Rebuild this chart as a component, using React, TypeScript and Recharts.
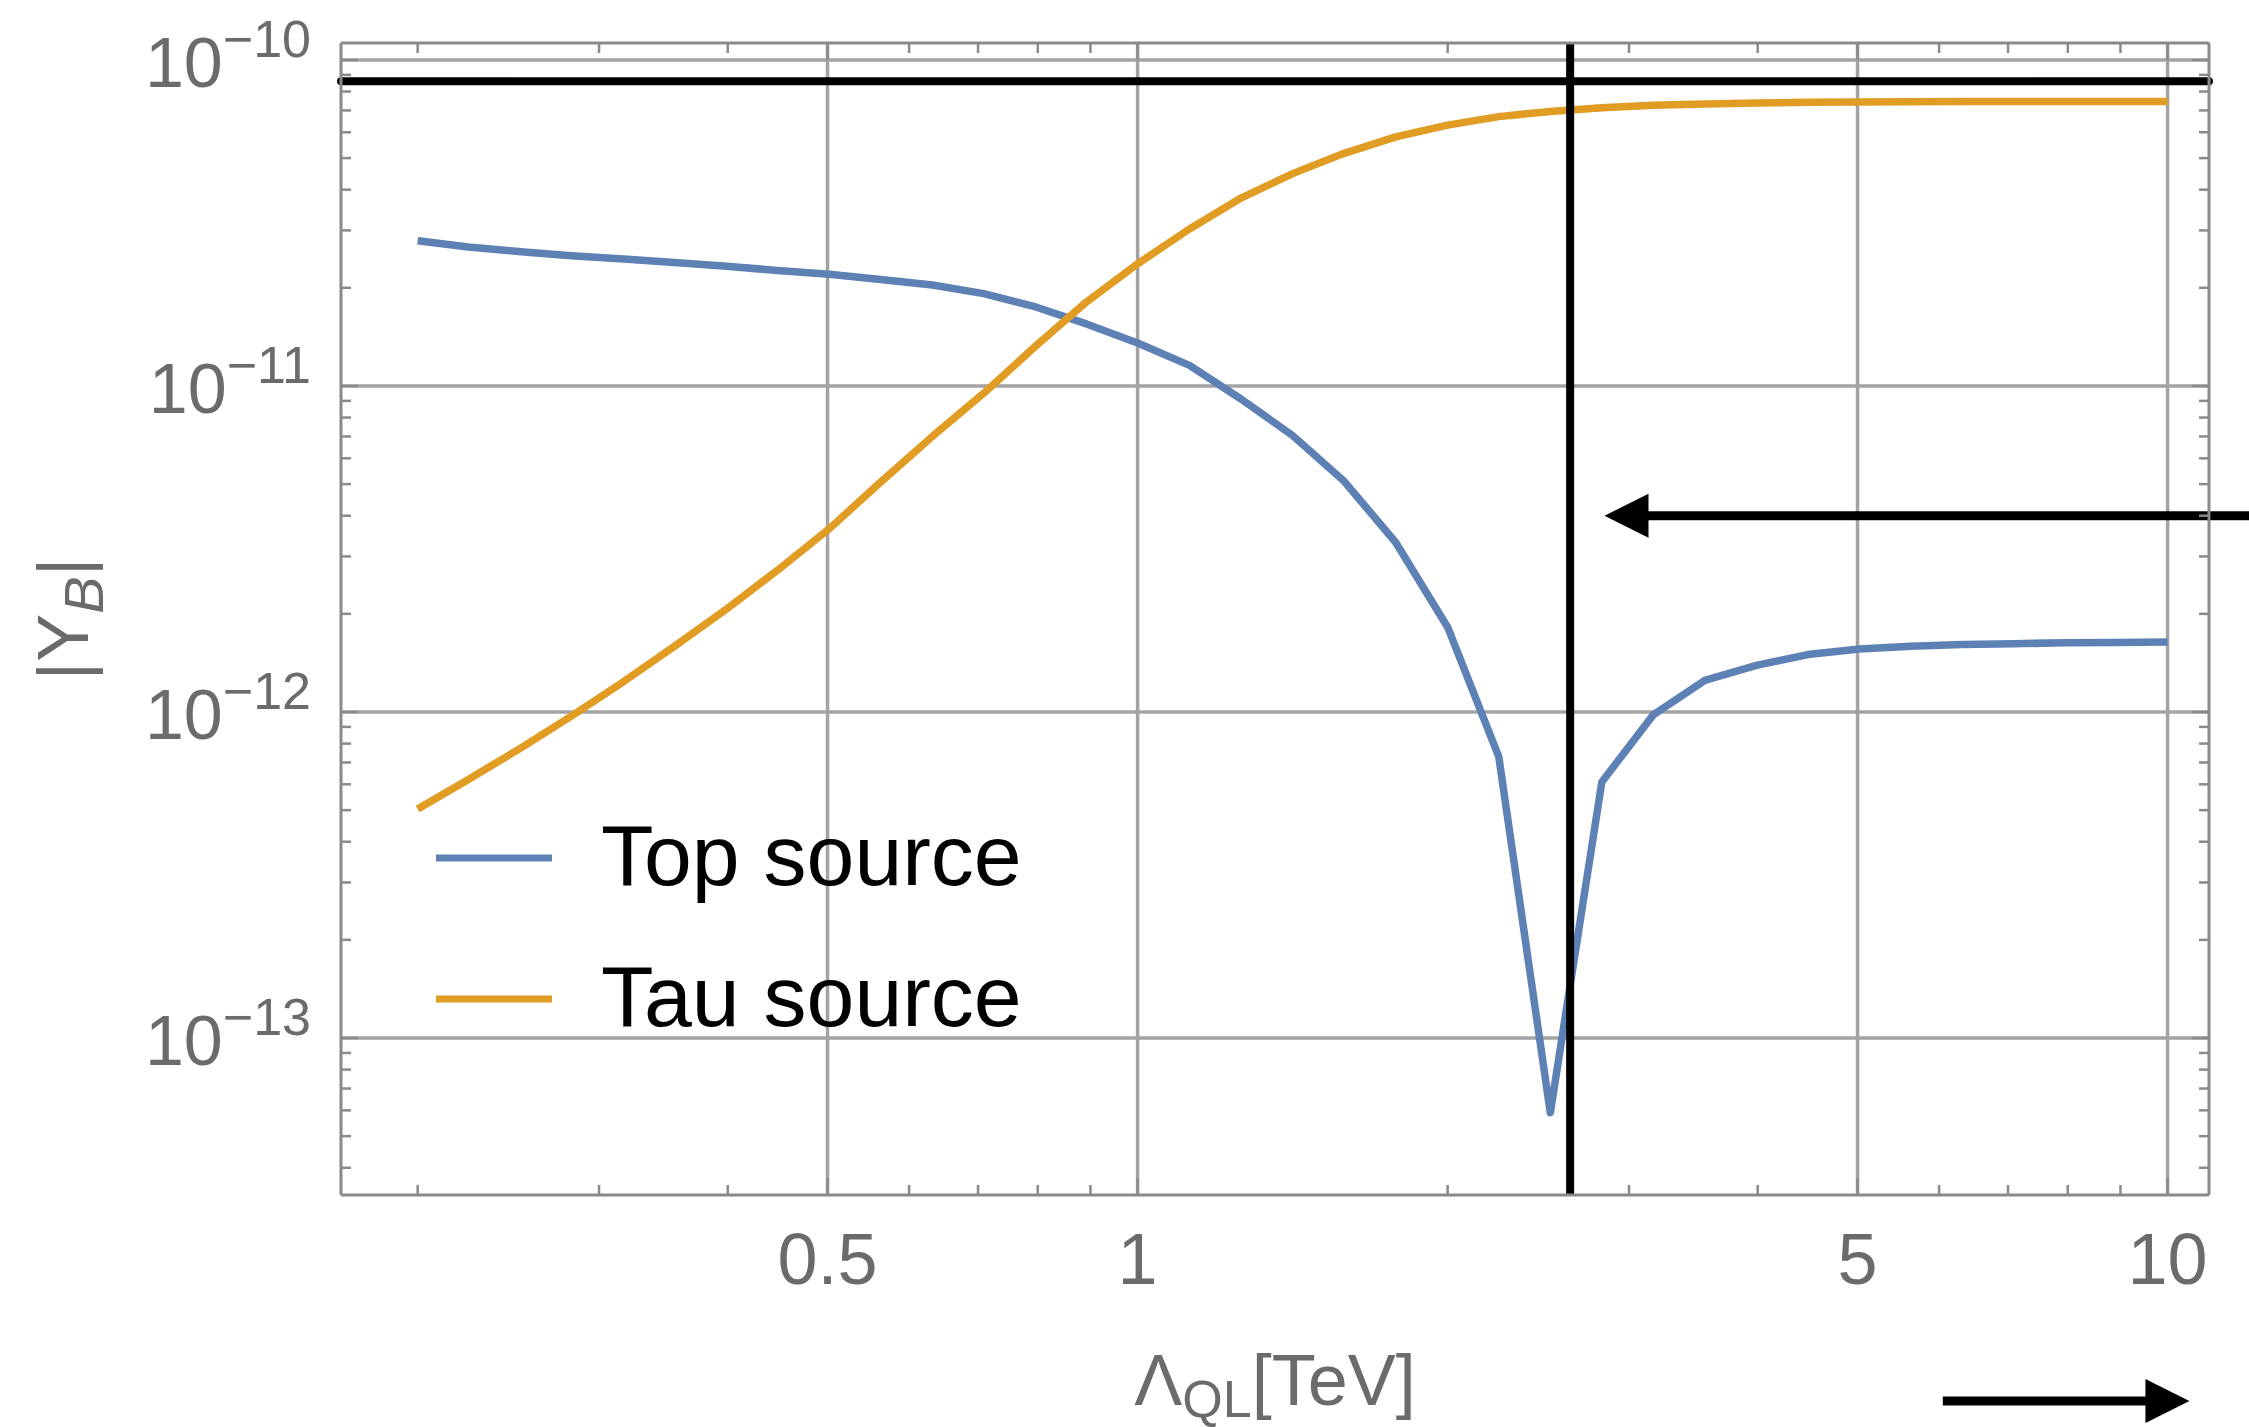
import React from 'react';
import { LineChart, Line, XAxis, YAxis, ReferenceLine, Legend } from 'recharts';

// Lambda_QL [TeV] sample points (log spaced, as in the original plot)
const lambdaQL = [
  0.2, 0.224, 0.252, 0.282, 0.317, 0.355, 0.399, 0.447, 0.502, 0.563, 0.632, 0.709,
  0.795, 0.892, 1.0, 1.123, 1.26, 1.414, 1.587, 1.781, 2.0, 2.242, 2.516, 2.823,
  3.167, 3.554, 3.988, 4.474, 5.02, 5.633, 6.32, 7.092, 7.957, 8.928, 10.0,
];

// |Y_B| from the top quark source
const topSource = [
  2.79e-11, 2.67e-11, 2.58e-11, 2.51e-11, 2.45e-11, 2.39e-11, 2.33e-11, 2.26e-11, 2.2e-11,
  2.12e-11, 2.04e-11, 1.92e-11, 1.75e-11, 1.55e-11, 1.355e-11, 1.156e-11, 9.12e-12, 7.05e-12,
  5.1e-12, 3.31e-12, 1.82e-12, 7.3e-13, 5.9e-14, 6.1e-13, 9.8e-13, 1.25e-12, 1.39e-12,
  1.5e-12, 1.56e-12, 1.59e-12, 1.61e-12, 1.62e-12, 1.63e-12, 1.635e-12, 1.64e-12,
];

// |Y_B| from the tau source
const tauSource = [
  5.04e-13, 6.21e-13, 7.76e-13, 9.71e-13, 1.24e-12, 1.59e-12, 2.07e-12, 2.72e-12, 3.65e-12,
  5.07e-12, 7.0e-12, 9.5e-12, 1.32e-11, 1.81e-11, 2.37e-11, 3.03e-11, 3.77e-11, 4.48e-11,
  5.17e-11, 5.81e-11, 6.31e-11, 6.7e-11, 6.95e-11, 7.13e-11, 7.26e-11, 7.33e-11, 7.38e-11,
  7.41e-11, 7.43e-11, 7.44e-11, 7.45e-11, 7.45e-11, 7.46e-11, 7.46e-11, 7.46e-11,
];

const seriesNames = ['Top source', 'Tau source'];

const xMajorTicks = [0.5, 1, 5, 10];
const xMajorLabels = ['0.5', '1', '5', '10'];
const xMinorTicks = [0.2, 0.3, 0.4, 0.6, 0.7, 0.8, 0.9, 2, 3, 4, 6, 7, 8, 9];

const yMajorTicks = [1e-13, 1e-12, 1e-11, 1e-10];
const yMajorExponents = ['\u221213', '\u221212', '\u221211', '\u221210'];
const yMinorTicks = [
  4e-14, 5e-14, 6e-14, 7e-14, 8e-14, 9e-14,
  2e-13, 3e-13, 4e-13, 5e-13, 6e-13, 7e-13, 8e-13, 9e-13,
  2e-12, 3e-12, 4e-12, 5e-12, 6e-12, 7e-12, 8e-12, 9e-12,
  2e-11, 3e-11, 4e-11, 5e-11, 6e-11, 7e-11, 8e-11, 9e-11,
];

const observedYB = 8.6e-11; // horizontal black line
const lambdaMark = 2.63; // vertical black line

const arrows = [
  { from: { x: 12, y: 4e-12 }, to: { x: 2.84, y: 4e-12 } },
  { from: { x: 6.05, y: 7.7e-15 }, to: { x: 10.5, y: 7.7e-15 } },
];

const X_DOMAIN = [0.1685, 10.97];
const Y_DOMAIN = [3.3e-14, 1.127e-10];

const BLUE = '#5E81B5';
const ORANGE = '#E19C24';
const FRAME = '#8a8a8a';
const GRID = '#a3a3a3';
const LABEL = '#6b6b6b';
const FONT = '"Liberation Sans", Arial, Helvetica, sans-serif';

const data = lambdaQL.map((x, i) => ({ x, top: topSource[i], tau: tauSource[i] }));
const xTicks = [...xMinorTicks, ...xMajorTicks].sort((a, b) => a - b);
const yTicks = [...yMinorTicks, ...yMajorTicks].sort((a, b) => a - b);

const isMajorX = (v: number) => xMajorTicks.some(t => Math.abs(t - v) < 1e-9);
const isMajorY = (v: number) => yMajorTicks.some(t => Math.abs(Math.log10(t) - Math.log10(v)) < 1e-6);

// frame ticks point inward, labels only on bottom / left
const renderXTick = (props: any, side: 'bottom' | 'top') => {
  const { x, y, payload } = props;
  const major = isMajorX(payload.value);
  const len = major ? 17 : 10;
  const dir = side === 'bottom' ? -1 : 1;
  const idx = xMajorTicks.findIndex(t => Math.abs(t - payload.value) < 1e-9);
  return (
    <g>
      <line x1={x} x2={x} y1={y} y2={y + dir * len} stroke={FRAME} strokeWidth={2.5} />
      {side === 'bottom' && major && (
        <text x={x} y={y + 89} textAnchor="middle" fontSize={72} fontFamily={FONT} fill={LABEL}>
          {xMajorLabels[idx]}
        </text>
      )}
    </g>
  );
};

const renderYTick = (props: any, side: 'left' | 'right') => {
  const { x, y, payload } = props;
  const major = isMajorY(payload.value);
  const len = major ? 17 : 10;
  const dir = side === 'left' ? 1 : -1;
  const idx = yMajorTicks.findIndex(t => Math.abs(Math.log10(t) - Math.log10(payload.value)) < 1e-6);
  return (
    <g>
      <line x1={x} x2={x + dir * len} y1={y} y2={y} stroke={FRAME} strokeWidth={2.5} />
      {side === 'left' && major && (
        <text x={x - 30} y={y + 27} textAnchor="end" fontSize={70} fontFamily={FONT} fill={LABEL}>
          10<tspan dy={-30} fontSize={52}>{yMajorExponents[idx]}</tspan>
        </text>
      )}
    </g>
  );
};

const ArrowShape = (props: any) => {
  const { x1, y1, x2, y2 } = props;
  const dx = x2 - x1;
  const dy = y2 - y1;
  const len = Math.hypot(dx, dy) || 1;
  const ux = dx / len;
  const uy = dy / len;
  const headLen = 44;
  const headHalf = 22;
  const bx = x2 - ux * headLen;
  const by = y2 - uy * headLen;
  return (
    <g>
      <line x1={x1} y1={y1} x2={bx + ux * 4} y2={by + uy * 4} stroke="#000" strokeWidth={9} />
      <polygon
        points={`${x2},${y2} ${bx - uy * headHalf},${by + ux * headHalf} ${bx + uy * headHalf},${by - ux * headHalf}`}
        fill="#000"
      />
    </g>
  );
};

const XTitle = (props: any) => {
  const vb = props.viewBox;
  return (
    <text x={vb.x + vb.width / 2} y={vb.y + 210} textAnchor="middle" fontSize={72} fontFamily={FONT} fill={LABEL}>
      {'\u039B'}
      <tspan dy={12} fontSize={52}>QL</tspan>
      <tspan dy={-12}>[TeV]</tspan>
    </text>
  );
};

const YTitle = (props: any) => {
  const vb = props.viewBox;
  const cx = vb.x + vb.width - 253;
  const cy = vb.y + vb.height / 2;
  return (
    <text x={cx} y={cy} transform={`rotate(-90, ${cx}, ${cy})`} textAnchor="middle" fontSize={72} fontFamily={FONT} fill={LABEL}>
      |Y<tspan dy={15} fontSize={56} fontStyle="italic">B</tspan>
      <tspan dy={-15}>|</tspan>
    </text>
  );
};

const LegendBox = (props: any) => {
  const items = [...(props.payload || [])].sort(
    (a: any, b: any) => seriesNames.indexOf(a.value) - seriesNames.indexOf(b.value)
  );
  return (
    <svg width={700} height={280}>
      {items.map((item: any, i: number) => (
        <g key={item.value}>
          <line x1={6} x2={122} y1={78 + i * 141} y2={78 + i * 141} stroke={item.color} strokeWidth={7} />
          <text x={171} y={105 + i * 141} fontSize={86} fontFamily={FONT} fill="#000">
            {item.value}
          </text>
        </g>
      ))}
    </svg>
  );
};

export default function App() {
  return (
    <div style={{ position: 'absolute', left: 0, top: 0, width: 2249, height: 1427, background: '#fff' }}>
      <LineChart width={2249} height={1427} data={data} margin={{ top: 42, right: 39, bottom: 231, left: 340 }}>
        <XAxis
          dataKey="x"
          type="number"
          scale="log"
          domain={X_DOMAIN}
          allowDataOverflow
          ticks={xTicks}
          interval={0}
          height={1}
          tickSize={0}
          tickMargin={0}
          tickLine={false}
          axisLine={{ stroke: FRAME, strokeWidth: 3 }}
          tick={(p: any) => renderXTick(p, 'bottom')}
          label={<XTitle />}
        />
        <XAxis
          xAxisId="top"
          orientation="top"
          dataKey="x"
          type="number"
          scale="log"
          domain={X_DOMAIN}
          allowDataOverflow
          ticks={xTicks}
          interval={0}
          height={1}
          tickSize={0}
          tickMargin={0}
          tickLine={false}
          axisLine={{ stroke: FRAME, strokeWidth: 3 }}
          tick={(p: any) => renderXTick(p, 'top')}
        />
        <YAxis
          type="number"
          scale="log"
          domain={Y_DOMAIN}
          allowDataOverflow
          ticks={yTicks}
          interval={0}
          width={1}
          tickSize={0}
          tickMargin={0}
          tickLine={false}
          axisLine={{ stroke: FRAME, strokeWidth: 3 }}
          tick={(p: any) => renderYTick(p, 'left')}
          label={<YTitle />}
        />
        <YAxis
          yAxisId="right"
          orientation="right"
          type="number"
          scale="log"
          domain={Y_DOMAIN}
          allowDataOverflow
          ticks={yTicks}
          interval={0}
          width={1}
          tickSize={0}
          tickMargin={0}
          tickLine={false}
          axisLine={{ stroke: FRAME, strokeWidth: 3 }}
          tick={(p: any) => renderYTick(p, 'right')}
        />

        {xMajorTicks.map(v => (
          <ReferenceLine key={`gx-${v}`} x={v} stroke={GRID} strokeWidth={3.5} />
        ))}
        {yMajorTicks.map(v => (
          <ReferenceLine key={`gy-${v}`} y={v} stroke={GRID} strokeWidth={3.5} />
        ))}

        <Line
          name={seriesNames[0]}
          dataKey="top"
          type="linear"
          stroke={BLUE}
          strokeWidth={7.5}
          strokeLinejoin="round"
          dot={false}
          activeDot={false}
          isAnimationActive={false}
        />
        <Line
          name={seriesNames[1]}
          dataKey="tau"
          type="linear"
          stroke={ORANGE}
          strokeWidth={7.5}
          strokeLinejoin="round"
          dot={false}
          activeDot={false}
          isAnimationActive={false}
        />

        <ReferenceLine x={lambdaMark} stroke="#000" strokeWidth={8} />
        <ReferenceLine y={observedYB} stroke="#000" strokeWidth={8} strokeLinecap="round" />
        {arrows.map((a, i) => (
          <ReferenceLine key={`arrow-${i}`} segment={[a.from, a.to]} ifOverflow="visible" shape={<ArrowShape />} />
        ))}

        <Legend
          layout="vertical"
          align="center"
          verticalAlign="middle"
          wrapperStyle={{ left: 430, top: 780, width: 700, height: 280 }}
          content={<LegendBox />}
        />
      </LineChart>
    </div>
  );
}
